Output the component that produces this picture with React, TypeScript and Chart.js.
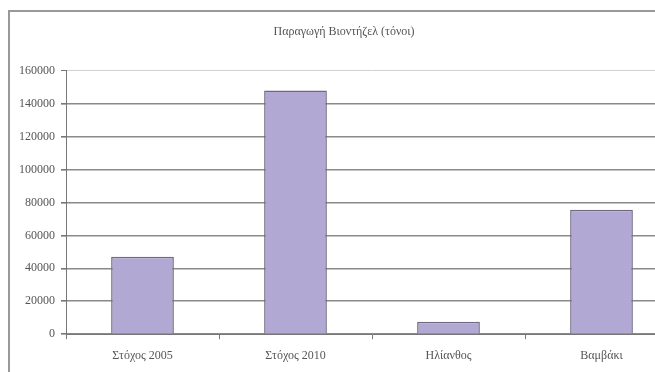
import React, { useEffect, useRef } from "react";
import { Chart, registerables } from "chart.js";

Chart.register(...registerables);

const TITLE = "Παραγωγή Βιοντήζελ (τόνοι)";
const categories = ["Στόχος 2005", "Στόχος 2010", "Ηλίανθος", "Βαμβάκι"];
const production = [47000, 148000, 7500, 75500];
const yMin = 0;
const yMax = 160000;
const yStep = 20000;

const FONT = "'Liberation Serif', 'Times New Roman', serif";

export default function App() {
  const ref = useRef<HTMLCanvasElement | null>(null);

  useEffect(() => {
    if (!ref.current) return;
    const chart = new Chart(ref.current, {
      type: "bar",
      data: {
        labels: categories,
        datasets: [
          {
            data: production,
            backgroundColor: "#b1a8d3",
            borderColor: "#6f6a80",
            borderWidth: 1.5,
            barPercentage: 0.41,
            categoryPercentage: 1,
          },
        ],
      },
      options: {
        animation: false,
        responsive: false,
        maintainAspectRatio: false,
        layout: { padding: { left: 0, right: 2, top: 0, bottom: 0.4 } },
        plugins: {
          legend: { display: false },
          tooltip: { enabled: false },
          title: {
            display: true,
            text: TITLE,
            color: "#555",
            font: { family: FONT, size: 12, weight: "normal" },
            padding: { top: 12.5, bottom: 31.8 },
          },
        },
        scales: {
          x: {
            offset: true,
            grid: {
              display: true,
              drawOnChartArea: false,
              drawTicks: true,
              tickLength: 5,
              tickColor: "#777",
              offset: true,
            },
            border: { display: true, color: "#777", width: 1 },
            ticks: {
              color: "#555",
              padding: 9,
              font: { family: FONT, size: 12 },
              maxRotation: 0,
            },
          },
          y: {
            min: yMin,
            max: yMax,
            afterFit: (scale: any) => {
              scale.width = 56;
            },
            grid: {
              color: (ctx: any) => (ctx.tick && ctx.tick.value === yMax ? "#d0d0d0" : "#8a8a8a"),
              lineWidth: (ctx: any) => (ctx.tick && ctx.tick.value === yMax ? 1 : 1.6),
              drawTicks: true,
              tickLength: 5,
              tickColor: "#777",
            },
            border: { display: true, color: "#777", width: 1 },
            ticks: {
              stepSize: yStep,
              color: "#555",
              padding: 6,
              font: { family: FONT, size: 12 },
              callback: (v: any) => String(v),
            },
          },
        },
      },
    });
    return () => chart.destroy();
  }, []);

  return (
    <div
      style={{
        position: "absolute",
        left: 0,
        top: 0,
        width: 655,
        height: 372,
        overflow: "hidden",
        background: "#fff",
      }}
    >
      <div
        style={{
          position: "absolute",
          left: 8,
          top: 10,
          width: 700,
          height: 400,
          borderLeft: "2px solid #999",
          borderTop: "2px solid #999",
        }}
      >
        <canvas ref={ref} width={670} height={360} style={{ display: "block", width: 670, height: 360 }} />
      </div>
    </div>
  );
}
